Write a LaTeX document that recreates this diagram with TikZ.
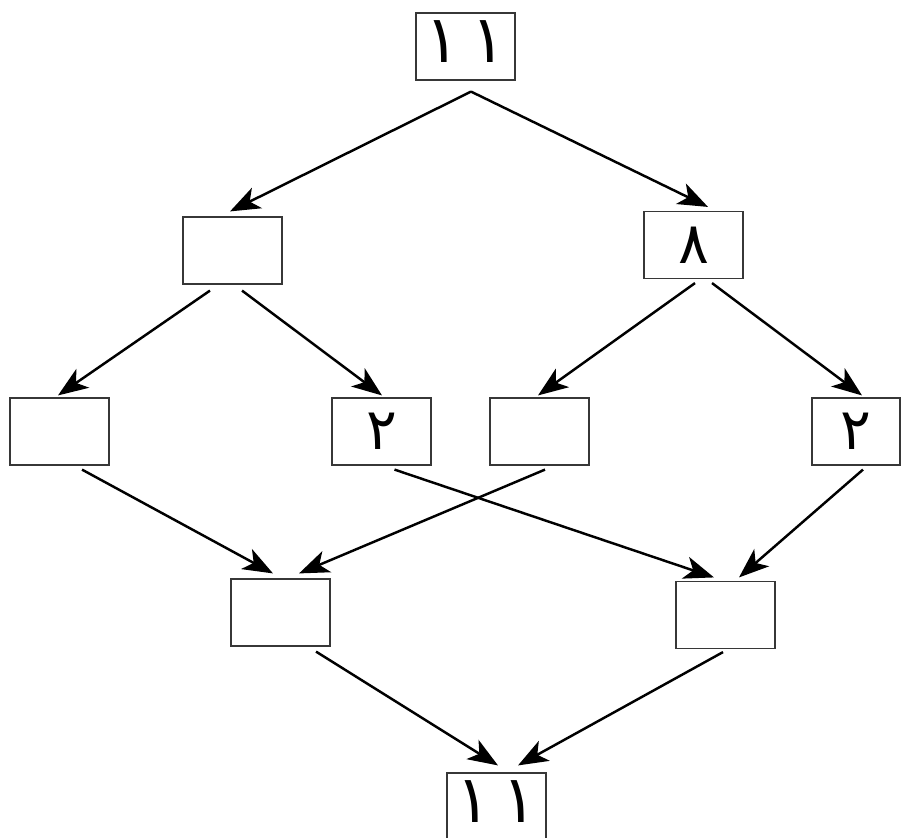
\documentclass[tikz,border=0pt]{standalone}
\usepackage{fontspec}
\usepackage{graphicx}
\newfontfamily\arabicfont[Script=Arabic]{DejaVu Sans}
\TeXXeTstate=1
\usepackage{xcolor}
\definecolor{boxgray}{RGB}{55,55,55}
\usetikzlibrary{arrows.meta, calc}
\newcommand{\arone}{\scalebox{1.1}[1.15]{١}}
\newcommand{\areleven}{\raisebox{0pt}[\height][0.3cm]{\arone\hspace{0.35cm}\arone}}

\begin{document}
\begin{tikzpicture}[x=0.03cm, y=-0.03cm,
  numbox/.style={draw=boxgray, line width=1pt, fill=white,
    minimum width=2.97cm, minimum height=2.01cm, inner sep=0pt,
    font=\fontsize{49}{49}\selectfont\arabicfont},
  link/.style={line width=2.1pt, -{Stealth[length=9mm, width=6.8mm, inset=2.4mm]}}]
  \useasboundingbox (0,0) rectangle (901,837);

  % Top number
  \node[numbox] (top) at (465.5,46.5) {\areleven};

  % Second row
  \node[numbox] (left) at (232.5,250.5) {};
  \node[numbox] (right) at (693.5,245) {٨};

  % Third row
  \node[numbox] (partA) at (59.5,431.5) {};
  \node[numbox] (partB) at (381.5,431.5) {٢};
  \node[numbox] (partC) at (539.5,431.5) {};
  \node[numbox, minimum width=2.64cm] (partD) at (856,431.5) {٢};

  % Fourth row
  \node[numbox] (sumL) at (280.5,612.5) {};
  \node[numbox] (sumR) at (725.5,615) {};

  % Bottom number
  \node[numbox] (bottom) at (496.5,806.5) {\areleven};

  % Splitting
  \draw[link] ($(top.south)+(5.5,11)$) -- ($(left.north)+(-2.5,-5)$);
  \draw[link] ($(top.south)+(5.5,11)$) -- ($(right.north)+(14.5,-4)$);
  \draw[link] ($(left.south)+(-22.5,6)$) -- ($(partA.north)+(-1.5,-2)$);
  \draw[link] ($(left.south)+(9.5,6)$) -- ($(partB.north)+(0.5,-2)$);
  \draw[link] ($(right.south)+(1.5,4)$) -- ($(partC.north)+(-1.5,-2)$);
  \draw[link] ($(right.south)+(18.5,4)$) -- ($(partD.north)+(6,-2)$);

  % Crossing
  \draw[link] ($(partA.south)+(22.5,4)$) -- ($(sumL.north)+(-7.5,-5)$);
  \draw[link] ($(partB.south)+(13,4)$) -- ($(sumR.north)+(-11.5,-3.5)$);
  \draw[link] ($(partC.south)+(5.5,4)$) -- ($(sumL.north)+(18.5,-5)$);
  \draw[link] ($(partD.south)+(7,4)$) -- ($(sumR.north)+(13.5,-3.5)$);

  % Joining
  \draw[link] ($(sumL.south)+(35.5,5)$) -- ($(bottom.north)+(1.5,-7)$);
  \draw[link] ($(sumR.south)+(-2.5,3)$) -- ($(bottom.north)+(21.5,-7)$);
\end{tikzpicture}
\end{document}
